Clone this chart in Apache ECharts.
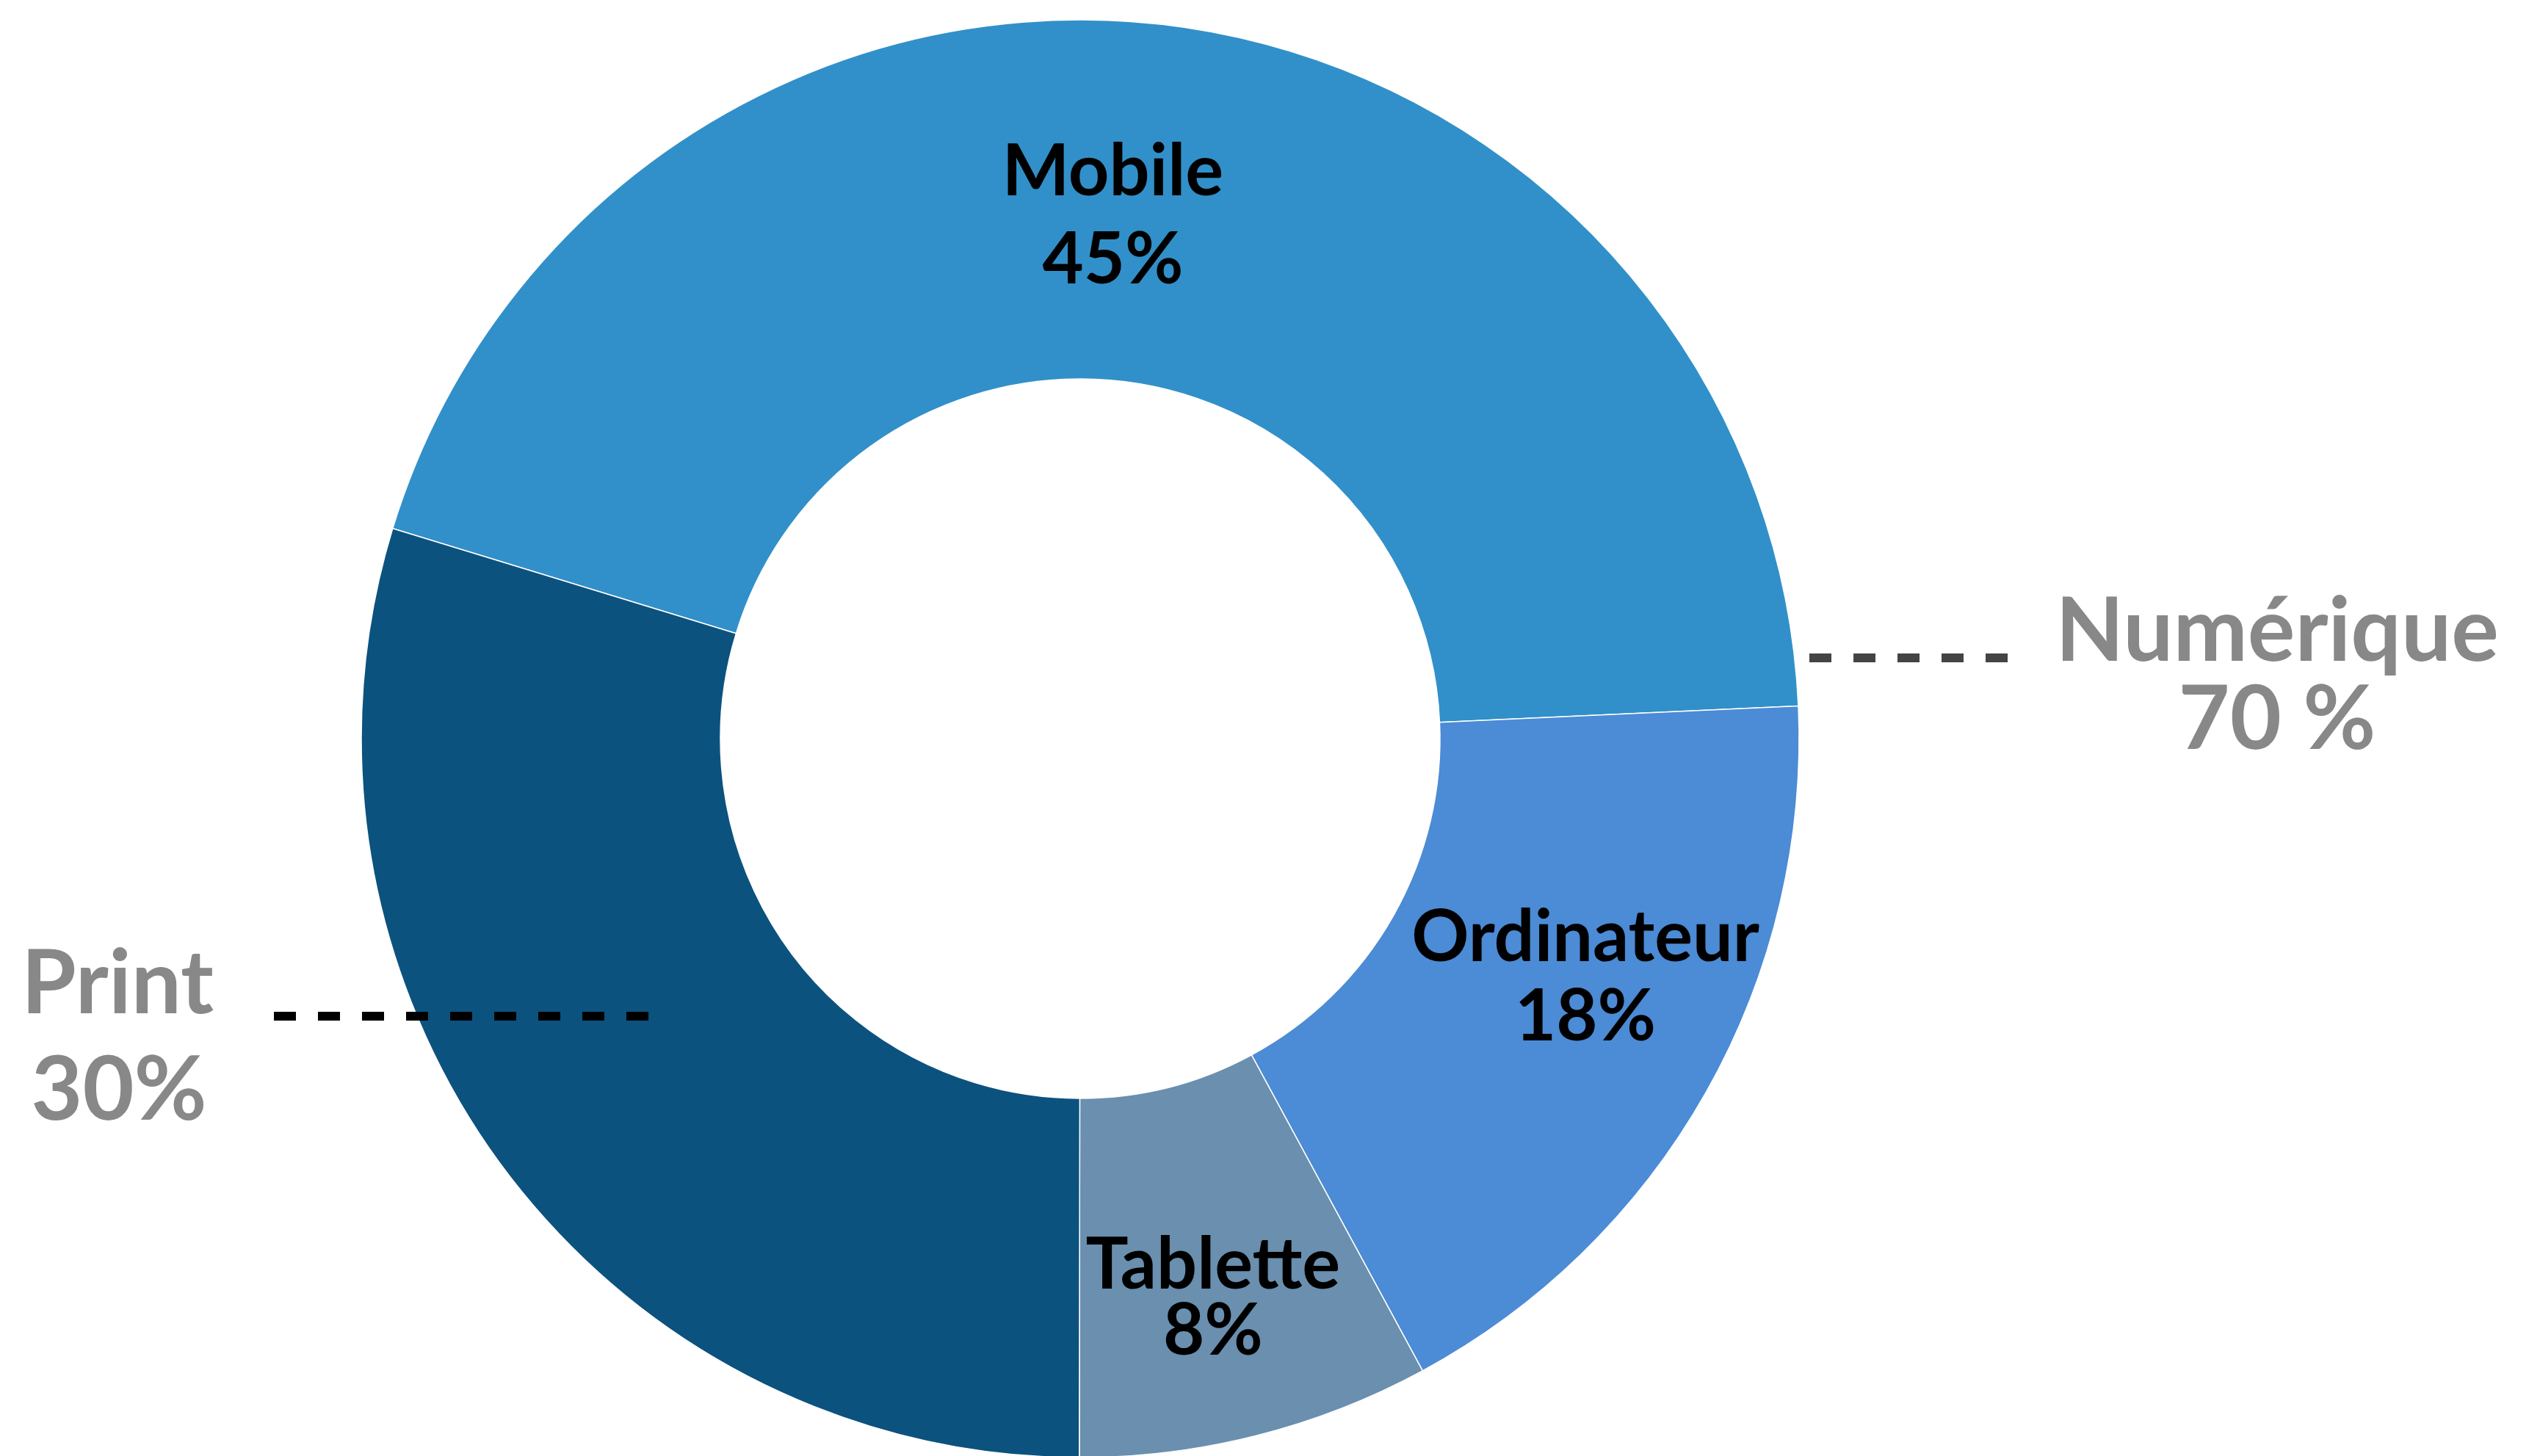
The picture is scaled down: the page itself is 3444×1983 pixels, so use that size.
<!DOCTYPE html>
<html>
<head>
<meta charset="utf-8">
<script src="https://cdn.jsdelivr.net/npm/echarts@6/dist/echarts.min.js"></script>
<style>
  html, body { margin: 0; padding: 0; background: #fff; }
  #chart { width: 3444px; height: 1983px; }
</style>
</head>
<body>
<div id="chart"></div>
<script>
// data
var categories = ['Mobile', 'Ordinateur', 'Tablette', 'Print'];
var shares = [45, 18, 8, 30];
var sliceColors = ['#3190C9', '#4C8BD5', '#6A8FAF', '#0C527E'];
var showInside = [true, true, true, false];

// side annotations (group totals)
var groupNames = ['Numérique', 'Print'];
var groupShares = ['70 %', '30%'];

var myChart = echarts.init(document.getElementById('chart'));

// per slice label tweaks (line spacing + nudges)
var labelLineHeights = [120, 108, 90, 110];
var labelOffsets = [[-48, 20], [46, -37], [0, 48], [0, 0]];

var pieData = categories.map(function (name, i) {
    return {
        name: name,
        value: shares[i],
        itemStyle: { color: sliceColors[i] },
        label: {
            show: showInside[i],
            lineHeight: labelLineHeights[i],
            offset: labelOffsets[i]
        }
    };
});

function sideText(txt, x, y) {
    return {
        type: 'text',
        x: x, y: y,
        z: 100,
        style: {
            text: txt,
            font: 'bold 121px Lato',
            fill: '#888888',
            textAlign: 'center',
            textVerticalAlign: 'middle'
        }
    };
}

var option = {
    backgroundColor: '#ffffff',
    animation: false,
    series: [{
        type: 'pie',
        center: [1471, 1006],
        radius: [490, 979],
        startAngle: 163,
        clockwise: true,
        avoidLabelOverlap: false,
        itemStyle: {
            borderColor: '#ffffff',
            borderWidth: 1.5
        },
        label: {
            position: 'inside',
            formatter: function (p) {
                return p.name + '\n' + p.value + '%';
            },
            color: '#000000',
            fontFamily: 'Lato',
            fontWeight: 'bold',
            fontSize: 97
        },
        labelLine: { show: false },
        emphasis: { disabled: true },
        data: pieData
    }],
    graphic: [
        // Numérique annotation
        {
            type: 'line',
            z: 100,
            shape: { x1: 2464, y1: 896, x2: 2745, y2: 896 },
            style: { stroke: '#444444', lineWidth: 12, lineDash: [30, 30] }
        },
        sideText(groupNames[0], 3101, 861),
        sideText(groupShares[0], 3101, 981),
        // Print annotation
        {
            type: 'line',
            z: 100,
            shape: { x1: 373, y1: 1384, x2: 890, y2: 1384 },
            style: { stroke: '#000000', lineWidth: 12, lineDash: [30, 30] }
        },
        sideText(groupNames[1], 160, 1341),
        sideText(groupShares[1], 162, 1486)
    ]
};

myChart.setOption(option);
</script>
</body>
</html>
